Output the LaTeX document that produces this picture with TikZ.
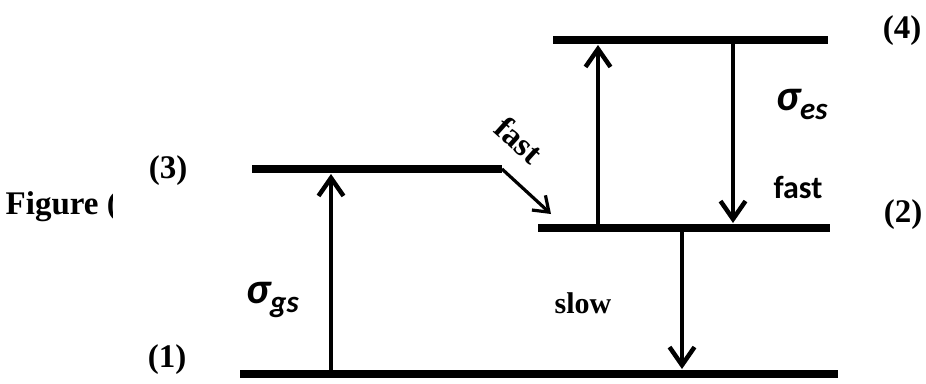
\documentclass[tikz,border=0pt]{standalone}
\usepackage{fontspec}
\setmainfont{Liberation Serif}
\newfontfamily\calib{Carlito}
\usetikzlibrary{arrows.meta}
\tikzset{
  level/.style={line width=7.5pt},
  trans/.style={line width=4.5pt, -{Straight Barb[length=18pt,width=25pt]}},
  relax/.style={line width=3.2pt, -{Straight Barb[length=14pt,width=20pt]}},
  tag/.style={font=\fontsize{33}{33}\selectfont\bfseries, inner sep=0pt},
  sans/.style={font=\fontsize{32}{32}\selectfont\calib\bfseries, inner sep=0pt},
  sig/.style={font=\fontsize{44}{44}\selectfont\calib\bfseries\itshape, inner sep=0pt, anchor=base west}
}
\newcommand{\subs}[1]{\raisebox{-9pt}{\fontsize{31}{31}\selectfont\calib\bfseries\itshape #1}}
\begin{document}
\begin{tikzpicture}[x=1pt,y=-1pt]
  \useasboundingbox (0,0) rectangle (926,383);

  % energy levels
  \coordinate (g1a) at (240,374);  \coordinate (g1b) at (838,374);
  \coordinate (e3a) at (252,169);  \coordinate (e3b) at (502,169);
  \coordinate (e2a) at (538,228);  \coordinate (e2b) at (830,228);
  \coordinate (e4a) at (553,40);   \coordinate (e4b) at (828,40);
  \draw[level] (g1a) -- (g1b);
  \draw[level] (e3a) -- (e3b);
  \draw[level] (e2a) -- (e2b);
  \draw[level] (e4a) -- (e4b);

  % transitions
  \coordinate (u1s) at (331,371); \coordinate (u1e) at (331,174);
  \coordinate (u2s) at (598,225); \coordinate (u2e) at (598,45);
  \coordinate (d1s) at (733,43);  \coordinate (d1e) at (733,223);
  \coordinate (d2s) at (682,232); \coordinate (d2e) at (682,369);
  \coordinate (ft) at (551,214);
  \draw[trans] (u1s) -- (u1e);
  \draw[trans] (u2s) -- (u2e);
  \draw[trans] (d1s) -- (d1e);
  \draw[trans] (d2s) -- (d2e);
  \draw[relax] (e3b) -- (ft);

  % level numbers
  \node[tag] (n3) at (168,171) {(3)};
  \node[tag] (n1) at (167,360) {(1)};
  \node[tag] (n4) at (902,31) {(4)};
  \node[tag] (n2) at (903,215) {(2)};

  % caption fragment
  \begin{scope}
    \clip (0,0) rectangle (112,383);
    \node[tag, anchor=base east] (cap) at (118,214) {Figure (};
  \end{scope}

  % rate labels
  \node[tag, font=\fontsize{30}{30}\selectfont\bfseries] (slow) at (583,303) {slow};
  \node[sans] (fastr) at (798,187) {fast};
  \node[tag, rotate=-42] (fastd) at (519,140) {fast};

  % cross sections
  \node[sig] (sgs) at (246,303) {σ\subs{gs}};
  \node[sig] (ses) at (776,110) {σ\subs{es}};
\end{tikzpicture}
\end{document}
